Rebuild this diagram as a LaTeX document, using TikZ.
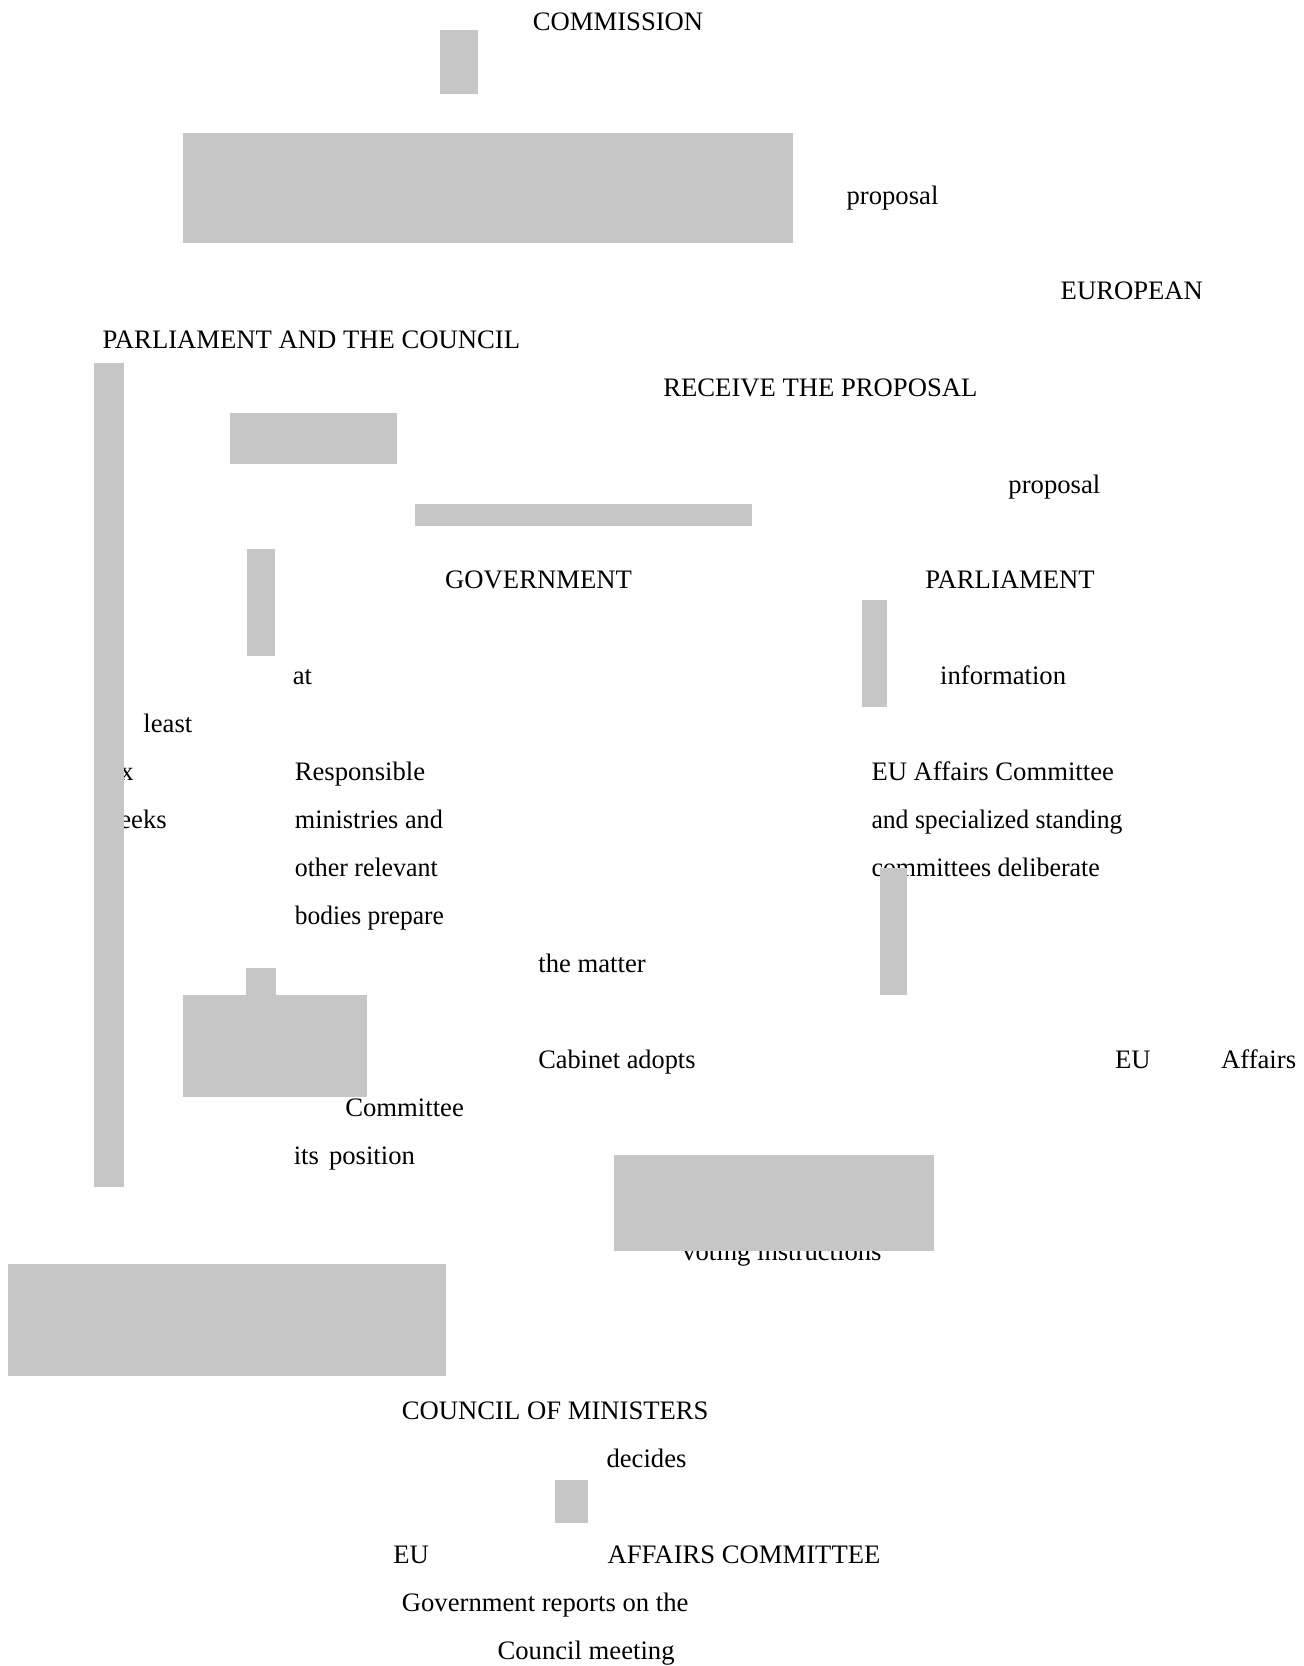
\documentclass[tikz,border=0pt]{standalone}
\usepackage{fontspec}
\setmainfont{Liberation Serif}
\definecolor{boxgrey}{RGB}{198,198,198}
\tikzset{
  txt/.style={anchor=base west, inner sep=0pt, outer sep=0pt, font=\fontsize{20}{24}\selectfont},
  greybox/.style={fill=boxgrey, draw=none}
}
\begin{document}
\begin{tikzpicture}[x=0.747pt,y=-0.75pt]
\useasboundingbox (0pt,0pt) rectangle (977.25pt,-1249.5pt);
% texts
\begin{scope}[yshift=-1.2pt]
\node[txt] (t1) at (535,29.3) {COMMISSION};
\node[txt] (t2) at (850,203) {proposal};
\node[txt] (t3) at (1065,298) {EUROPEAN};
\node[txt] (t4) at (103,347) {PARLIAMENT AND THE COUNCIL};
\node[txt] (t5) at (666,395) {RECEIVE THE PROPOSAL};
\node[txt] (t6) at (1012.5,491.7) {proposal};
\node[txt] (t7) at (447,586.7) {GOVERNMENT};
\node[txt] (t8) at (929,586.7) {PARLIAMENT};
\node[txt] (t9) at (294,682.7) {at};
\node[txt] (t10) at (944,682.7) {information};
\node[txt] (t11) at (144,730.7) {least};
\node[txt] (t12) at (103,778.7) {six};
\node[txt] (t13) at (100.5,826.7) {weeks};
\node[txt] (t14) at (296,778.7) {Responsible};
\node[txt] (t15) at (875,778.7) {EU Affairs Committee};
\node[txt] (t16) at (296,826.7) {\scalebox{0.985}[1]{ministries and}};
\node[txt] (t17) at (875,826.7) {\scalebox{0.963}[1]{and specialized standing}};
\node[txt] (t18) at (296,874.7) {\scalebox{0.97}[1]{other relevant}};
\node[txt] (t19) at (875,874.7) {\scalebox{0.973}[1]{committees deliberate}};
\node[txt] (t20) at (296,922.7) {\scalebox{0.955}[1]{bodies prepare}};
\node[txt] (t21) at (540.5,970.7) {the matter};
\node[txt] (t22) at (540.5,1066.7) {\scalebox{0.987}[1]{Cabinet adopts}};
\node[txt] (t23) at (1119.5,1066.7) {EU};
\node[txt] (t24) at (1226,1066.7) {Affairs};
\node[txt] (t25) at (346.7,1114.7) {Committee};
\node[txt] (t26) at (295,1162.7) {its\hspace{2.5pt} position};
\node[txt] (t27) at (685,1259) {voting instructions};
\node[txt] (t28) at (403.5,1418.3) {COUNCIL OF MINISTERS};
\node[txt] (t29) at (609,1466) {decides};
\node[txt] (t30) at (395,1561.7) {EU};
\node[txt] (t31) at (610,1561.7) {AFFAIRS COMMITTEE};
\node[txt] (t32) at (403.5,1610) {Government reports on the};
\node[txt] (t33) at (499.6,1658) {Council meeting};
\end{scope}
% grey boxes
\fill[greybox] (442,30) rectangle (480,94);
\fill[greybox] (183.5,133) rectangle (796,243);
\fill[greybox] (94,363) rectangle (124.5,1186.5);
\fill[greybox] (231,413) rectangle (398.5,463.7);
\fill[greybox] (417,504) rectangle (755,526);
\fill[greybox] (248,549) rectangle (276,655.7);
\fill[greybox] (865,600) rectangle (891,706.7);
\fill[greybox] (884,868.3) rectangle (911,994.7);
\fill[greybox] (247,968) rectangle (277,995.5);
\fill[greybox] (183.5,995) rectangle (368,1096.7);
\fill[greybox] (616,1155) rectangle (938,1250.7);
\fill[greybox] (8.4,1264) rectangle (448,1375.7);
\fill[greybox] (557.5,1480) rectangle (590,1522.7);
\end{tikzpicture}
\end{document}
